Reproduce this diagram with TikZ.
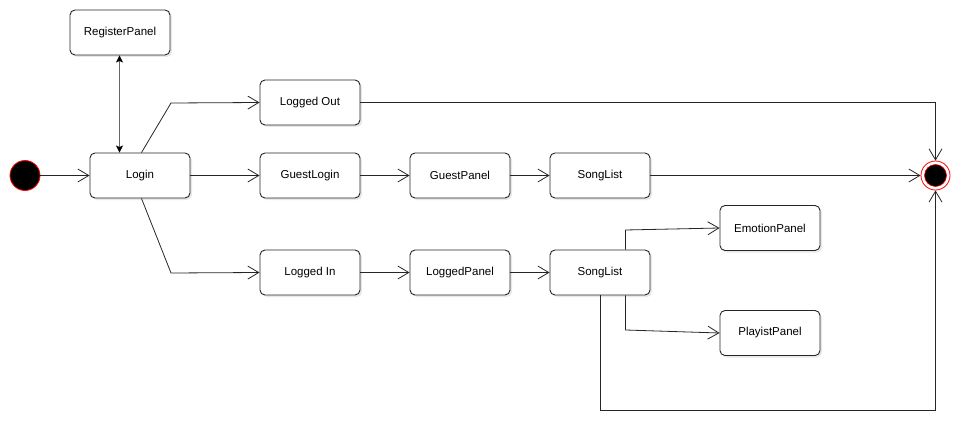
\documentclass[tikz,border=0pt]{standalone}
\usepackage{fontspec}
\setmainfont{Liberation Sans}
\usetikzlibrary{arrows.meta,shadows}
\begin{document}
\begin{tikzpicture}[x=1pt,y=-1pt,
  state/.style={draw=black!85, line width=0.9pt, fill=white, rounded corners=5pt,
    minimum width=100pt, minimum height=45pt, inner sep=0pt,
    font=\fontsize{11.5}{14}\selectfont,
    drop shadow={shadow xshift=2pt, shadow yshift=-2pt, fill=black!18}},
  flow/.style={draw=black!85, line width=0.8pt,
    -{Straight Barb[length=11pt,width=13pt,line width=0.8pt]}},
  dbl/.style={draw=black!60, line width=1.2pt,
    {Stealth[length=7pt,width=7pt,inset=1.5pt,black]}-{Stealth[length=7pt,width=7pt,inset=1.5pt,black]}}
]
\useasboundingbox (0,0) rectangle (967,441);
\node[circle, fill=black, draw=red, line width=0.8pt, minimum size=30pt, inner sep=0pt] (start) at (25,175.5) {};
\node[state] (reg) at (120,32.5) {RegisterPanel};
\node[state] (login) at (140,175.5) {Login};
\node[state] (out) at (310,102.5) {Logged Out};
\node[state] (guest) at (310,175.5) {GuestLogin};
\node[state] (in) at (310,272.5) {Logged In};
\node[state] (gpanel) at (460,175.5) {GuestPanel};
\node[state] (lpanel) at (460,272.5) {LoggedPanel};
\node[state] (song1) at (600,175.5) {SongList};
\node[state] (song2) at (600,272.5) {SongList};
\node[state] (emo) at (770,228) {EmotionPanel};
\node[state] (play) at (770,333) {PlayistPanel};
\node[circle, draw=red, fill=white, line width=0.8pt, minimum size=29pt, inner sep=0pt] (end) at (935.5,175.5) {};
\node[circle, draw=red, fill=black, line width=0.6pt, minimum size=22pt, inner sep=0pt] at (end) {};

\coordinate (lo1) at (171,103);
\coordinate (li1) at (171,273);
\coordinate (e1) at (625.5,230);
\coordinate (p1) at (625.5,330);
\coordinate (b1) at (600.5,410);
\coordinate (b2) at (935.5,410);
\coordinate (t1) at (935.5,102.5);

\draw[flow] (start) -- (login);
\draw[dbl] (reg.south -| 119.5,0) -- (login.north -| 119.5,0);
\draw[flow] ([xshift=1.5pt]login.north) -- (lo1) -- (out.west);
\draw[flow] ([xshift=1.5pt]login.south) -- (li1) -- (in.west);
\draw[flow] (login) -- (guest);
\draw[flow] (guest) -- (gpanel);
\draw[flow] (gpanel) -- (song1);
\draw[flow] (in) -- (lpanel);
\draw[flow] (lpanel) -- (song2);
\draw[flow] (song1) -- (end);
\draw[flow] (out.east) -- (t1) -- (end.north);
\draw[flow] (song2.north -| e1) -- (e1) -- (emo.west);
\draw[flow] (song2.south -| p1) -- (p1) -- (play.west);
\draw[flow] (song2.south -| b1) -- (b1) -- (b2) -- (end.south);
\end{tikzpicture}
\end{document}
